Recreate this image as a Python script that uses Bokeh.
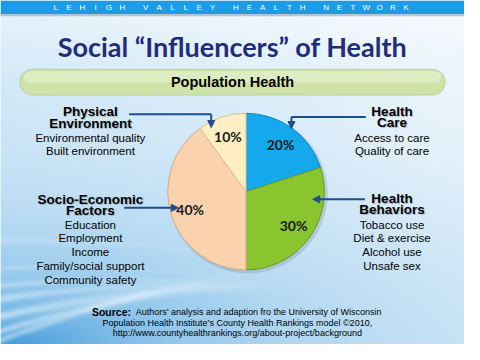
import numpy as np
from bokeh.plotting import figure
from bokeh.models import Range1d, Arrow, NormalHead, BoxAnnotation
from bokeh.core.properties import value
from bokeh.embed import file_html
from bokeh.resources import INLINE

# ---------------- data ----------------
categories = ["Health Care", "Health Behaviors", "Socio-Economic Factors", "Physical Environment"]
shares = [20, 30, 40, 10]
pct_labels = ["20%", "30%", "40%", "10%"]
slice_colors = ["#16A8EC", "#88C52E", "#FAD3AE", "#FFEFC2"]
slice_edges = ["#0C89C9", "#639A22", "#D6AC84", "#D8C290"]

banner_words = ["LEHIGH", "VALLEY", "HEALTH", "NETWORK"]
title = "Social \u201cInfluencers\u201d of Health"
band_label = "Population Health"

left_heads = ["Physical", "Environment", "Socio-Economic", "Factors"]
left_head_y = [116, 128.5, 208, 219.5]
left_items = ["Environmental quality", "Built environment", "Education", "Employment",
              "Income", "Family/social support", "Community safety"]
left_item_y = [144, 158, 235, 249, 263, 278, 293]

right_heads = ["Health", "Care", "Health", "Behaviors"]
right_head_y = [116, 128, 207, 219]
right_items = ["Access to care", "Quality of care", "Tobacco use", "Diet & exercise",
               "Alcohol use", "Unsafe sex"]
right_item_y = [144, 158, 235, 249, 263, 278]

source_bold = "Source:"
source_lines = ["Authors\u2019 analysis and adaption fro the University of Wisconsin",
                "Population Health Institute\u2019s County Health Rankings model \u00a92010,",
                "http://www.countyhealthrankings.org/about-project/background"]

# ---------------- canvas ----------------
W, H = 480, 360
def Y(py):
    return H - py

p = figure(width=464, height=344, x_range=Range1d(0, W), y_range=Range1d(0, H),
           output_backend="svg", toolbar_location=None, min_border=0,
           x_axis_type=None, y_axis_type=None)
p.outline_line_color = None
p.background_fill_color = "#EEF6FC"
p.border_fill_color = "#EEF6FC"

# background gradient with swooshes
gy, gx = np.mgrid[0:H, 0:W].astype(float)
white = np.array([246, 250, 253.0])
lightblue = np.array([194, 225, 246.0])
deep = np.array([60, 152, 218.0])
f = np.clip(0.15 + 0.55 * (gy / H) + 0.35 * (1 - gx / W) - 0.25 * (gy < 90) * (1 - gy / 90), 0, 1)
f = f * (1 - 0.35 * np.exp(-((gx - 470) / 120) ** 2) * np.exp(-((gy - 120) / 90) ** 2))
col = white[None, None, :] * (1 - f[..., None]) + lightblue[None, None, :] * f[..., None]
corner = np.exp(-np.sqrt((gx / 220) ** 2 + ((H - gy) / 80) ** 2) * 1.2)
streak = np.zeros_like(gx)
for y0, slope, w, a in [(330, 0.22, 5, 1.0), (345, 0.30, 4, 0.9), (312, 0.15, 4, 0.8),
                        (298, 0.10, 3, 0.6), (355, 0.38, 4, 0.8), (280, 0.05, 3, 0.4),
                        (250, 0.02, 3, 0.35)]:
    yc = y0 - slope * gx + 0.0004 * gx ** 2
    streak += a * np.exp(-((gy - yc) / w) ** 2)
fade = np.clip(1 - gx / 300, 0, 1) ** 1.3
dk = np.clip(corner * 1.0, 0, 1)
col = col * (1 - dk[..., None]) + deep[None, None, :] * dk[..., None]
st = np.clip(streak * fade * 0.55, 0, 0.8)
col = col * (1 - st[..., None]) + np.array([250, 253, 255.0])[None, None, :] * st[..., None]
img = np.zeros((H, W), dtype=np.uint32)
view = img.view(dtype=np.uint8).reshape((H, W, 4))
view[..., 0:3] = np.clip(col, 0, 255).astype(np.uint8)
view[..., 3] = 255
p.image_rgba(image=[img[::-1]], x=0, y=0, dw=W, dh=H, level="image")

# ---------------- banner ----------------
p.quad(left=0, right=W, bottom=Y(16), top=Y(14), color="#8FA6B8", alpha=0.5)
p.quad(left=0, right=W, bottom=Y(14), top=Y(0), color="#1C9BE6", line_color=None)
bx = []
x = 57.0
for wi, word in enumerate(banner_words):
    for ch in word:
        bx.append(x)
        x += 13.8
    x += 10.5
letters = [ch for word in banner_words for ch in word]
p.text(x=bx, y=[Y(7)] * len(bx), text=letters, text_align="center", text_baseline="middle",
       text_font=value("Liberation Sans"), text_font_size="8px", text_color="white")

# ---------------- title ----------------
p.text(x=[240], y=[Y(48)], text=[title], text_align="center", text_baseline="middle",
       text_font=value("Lato"), text_font_style="bold", text_font_size="27px",
       text_color="#1F2D7B")

# ---------------- population band ----------------
p.add_layout(BoxAnnotation(left=20, right=460, bottom=Y(99), top=Y(72), border_radius=13,
                           fill_color="#CFE3A9", fill_alpha=1, line_color="#8FA67C",
                           line_width=1.2, level="underlay"))
p.add_layout(BoxAnnotation(left=24, right=456, bottom=Y(86), top=Y(74), border_radius=10,
                           fill_color="#E4EFCD", fill_alpha=0.7, line_color=None,
                           level="underlay"))
p.text(x=[240], y=[Y(85)], text=[band_label], text_align="center", text_baseline="middle",
       text_font=value("Liberation Sans"), text_font_style="bold", text_font_size="14.5px",
       text_color="black")

# ---------------- pie ----------------
cx, cy, r = 254, 200, 81
vals = np.array(shares, dtype=float)
cum = np.cumsum(vals) / vals.sum()
prev = np.concatenate([[0], cum[:-1]])
start = np.pi / 2 - 2 * np.pi * prev
end = np.pi / 2 - 2 * np.pi * cum
p.circle(x=[cx + 2], y=[Y(cy + 2)], radius=r + 1.5, fill_color="#7A8C99", fill_alpha=0.3,
         line_color=None)
p.wedge(x=cx, y=Y(cy), radius=r, start_angle=start, end_angle=end, direction="clock",
        fill_color=slice_colors, line_color=slice_edges, line_width=1)
mid = (start + end) / 2
lx = cx + 0.75 * r * np.cos(mid)
ly = Y(cy) + 0.75 * r * np.sin(mid)
p.text(x=lx, y=ly, text=pct_labels, text_align="center", text_baseline="middle",
       text_font=value("Lato"), text_font_style="bold", text_font_size="14px",
       text_color="#1A1A1A")

# ---------------- side texts ----------------
def heads(xc, ys, txt):
    p.text(x=[xc + 1] * len(ys), y=[Y(v) - 1 for v in ys], text=txt, text_align="center",
           text_baseline="middle", text_font=value("Liberation Sans"), text_font_style="bold",
           text_font_size="13.5px", text_color="#9AA7B0", text_alpha=0.7)
    p.text(x=[xc] * len(ys), y=[Y(v) for v in ys], text=txt, text_align="center",
           text_baseline="middle", text_font=value("Liberation Sans"), text_font_style="bold",
           text_font_size="13.5px", text_color="black")

def items(xc, ys, txt):
    p.text(x=[xc] * len(ys), y=[Y(v) for v in ys], text=txt, text_align="center",
           text_baseline="middle", text_font=value("Liberation Sans"),
           text_font_size="11.5px", text_color="black")

heads(93, left_head_y, left_heads)
items(93, left_item_y, left_items)
heads(405, right_head_y, right_heads)
items(405, right_item_y, right_items)

# ---------------- arrows ----------------
ac = "#1F4E8C"
p.line(x=[133, 218], y=[Y(119), Y(119)], line_color=ac, line_width=2)
p.line(x=[378, 301], y=[Y(122), Y(122)], line_color=ac, line_width=2)
for (x0, y0, x1, y1) in [(218, 119, 218, 133), (128, 217, 184, 217),
                         (301, 122, 301, 134), (377, 208, 323, 208)]:
    p.add_layout(Arrow(end=NormalHead(size=7, fill_color=ac, line_color=ac),
                       x_start=x0, y_start=Y(y0), x_end=x1, y_end=Y(y1),
                       line_color=ac, line_width=2))

# ---------------- source ----------------
p.text(x=[135], y=[Y(326)], text=[source_bold], text_align="right", text_baseline="middle",
       text_font=value("Liberation Sans"), text_font_style="bold", text_font_size="10.5px",
       text_color="black")
p.text(x=[140], y=[Y(326)], text=[source_lines[0]], text_align="left", text_baseline="middle",
       text_font=value("Liberation Sans"), text_font_size="9px", text_color="black")
p.text(x=[245, 245], y=[Y(338), Y(348)], text=source_lines[1:], text_align="center",
       text_baseline="middle", text_font=value("Liberation Sans"), text_font_size="9px",
       text_color="black")

open("out.html", "w").write(file_html(p, INLINE))
